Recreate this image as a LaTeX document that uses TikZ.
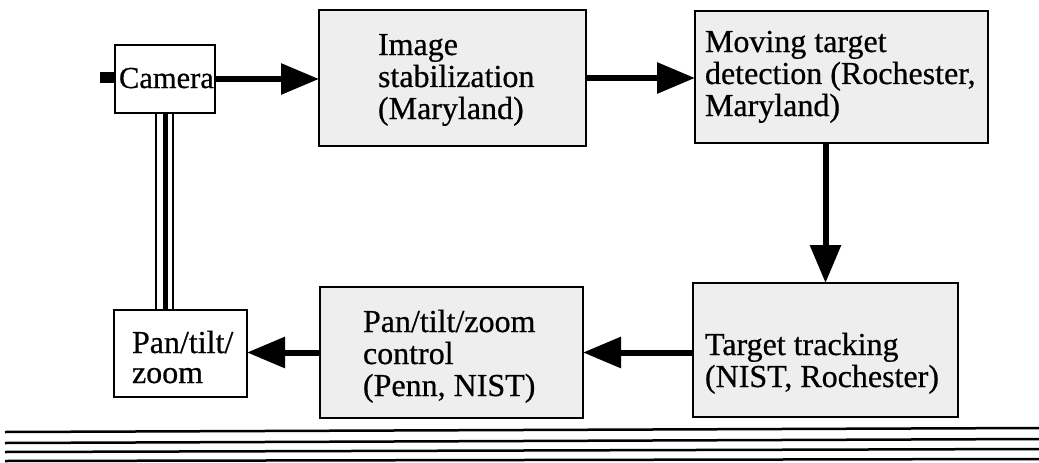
\documentclass[tikz,border=0pt]{standalone}
\usepackage{fontspec}
\setmainfont{Liberation Serif}
\newfontfamily\scanfont{Liberation Serif}[FakeBold=0.6]
\usetikzlibrary{arrows.meta}
\begin{document}
\begin{tikzpicture}[x=1pt,y=-1pt,
  box/.style={draw=black, line width=2pt, fill=gray!13, inner sep=0pt, outer sep=0pt, anchor=north west},
  wbox/.style={box, fill=white},
  txt/.style={inner sep=0pt, outer sep=0pt, anchor=base west, font=\scanfont\fontsize{32}{32}\selectfont},
  flow/.style={line width=6pt, -{Triangle[length=38pt,width=30pt]}},
  rule/.style={line width=2.5pt}]
\useasboundingbox (0,0) rectangle (1039,463);
% boxes
\node[wbox, minimum width=100pt, minimum height=68pt] (cam) at (115,45) {};
\node[box, minimum width=267pt, minimum height=136pt] (stab) at (319,10) {};
\node[box, minimum width=293pt, minimum height=132pt] (mov) at (695,11) {};
\node[box, minimum width=265pt, minimum height=134pt] (trk) at (693,283) {};
\node[box, minimum width=263pt, minimum height=131pt] (ctl) at (320,287) {};
\node[wbox, minimum width=133pt, minimum height=87pt] (pt) at (114,310) {};
% texts
\node[txt, font=\scanfont\fontsize{30.5}{32}\selectfont] (camt) at (119,88) {Camera};
\node[txt] (stabt) at (378,55) {\parbox[t]{200pt}{\raggedright Image\\stabilization\\(Maryland)}};
\node[txt] (movt) at (705,52) {\parbox[t]{290pt}{\raggedright Moving target\\detection (Rochester,\\Maryland)}};
\node[txt] (trkt) at (705,355) {\parbox[t]{260pt}{\raggedright Target tracking\\(NIST, Rochester)}};
\node[txt] (ctlt) at (363,332) {\parbox[t]{220pt}{\raggedright Pan/tilt/zoom\\control\\(Penn, NIST)}};
\node[txt, font=\scanfont\fontsize{32}{30}\selectfont] (ptt) at (132,353) {\parbox[t]{120pt}{\raggedright Pan/tilt/\\zoom}};
% camera input stub
\fill ([shift={(-15,-7)}]cam.west) rectangle ([shift={(0,4)}]cam.west);
% flow arrows
\draw[flow] (cam.east) -- (cam.east -| stab.west);
\draw[flow] (stab.east) -- (stab.east -| mov.west);
\draw[flow] (trk.north |- mov.south) -- (trk.north);
\draw[flow] (trk.west |- ctl.east) -- (ctl.east);
\draw[flow] (ctl.west) -- (pt.east |- ctl.west);
% camera to pan/tilt link
\draw[line width=1.5pt] ([xshift=-9pt]cam.south) -- ([xshift=-9pt]cam.south |- pt.north);
\draw[line width=5pt] (cam.south) -- (cam.south |- pt.north);
\draw[line width=1.5pt] ([xshift=8pt]cam.south) -- ([xshift=8pt]cam.south |- pt.north);
% bottom rules
\draw[rule] (5,432) -- (1039,428);
\draw[rule] (5,443) -- (1039,439);
\draw[rule] (5,452) -- (1039,449);
\draw[rule] (5,461) -- (1039,459);
\end{tikzpicture}
\end{document}
